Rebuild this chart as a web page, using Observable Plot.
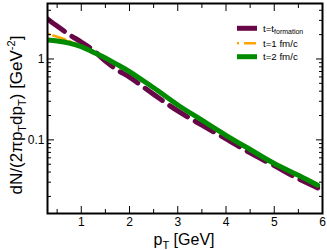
<!DOCTYPE html>
<html>
<head>
<meta charset="utf-8">
<script src="https://cdn.jsdelivr.net/npm/d3@7"></script>
<script src="https://cdn.jsdelivr.net/npm/@observablehq/plot@0.6"></script>
<style>
  html, body { margin: 0; padding: 0; background: white; }
</style>
</head>
<body>
<div id="chart"></div>
<script>
// ---- data ----
const pT        = [0.3, 0.5, 0.75, 1.0, 1.25, 1.5, 1.75, 2.0, 2.5, 3.0, 3.5, 4.0, 4.5, 5.0, 5.5, 5.9];
const formation = [3.13, 2.55, 2.0, 1.62, 1.28, 0.94, 0.73, 0.595, 0.365, 0.228, 0.152, 0.103, 0.069, 0.048, 0.033, 0.0255];
const t1fm      = [2.05, 1.88, 1.66, 1.43, 1.20, 1.01, 0.835, 0.69, 0.432, 0.265, 0.172, 0.112, 0.075, 0.0503, 0.036, 0.027];
const t2fm      = [1.72, 1.67, 1.57, 1.42, 1.21, 1.03, 0.85, 0.70, 0.44, 0.27, 0.175, 0.114, 0.076, 0.051, 0.0365, 0.0275];

const seriesNames  = ["t=t_formation", "t=1 fm/c", "t=2 fm/c"];
const xMajorTicks  = [1, 2, 3, 4, 5, 6];
const xMinorTicks  = [0.5, 1.5, 2.5, 3.5, 4.5, 5.5];
const yMajorTicks  = [0.1, 1];
const yTickLabels  = ["0.1", "1"];
const yMinorTicks  = [0.02, 0.03, 0.04, 0.05, 0.06, 0.07, 0.08, 0.09, 0.2, 0.3, 0.4, 0.5, 0.6, 0.7, 0.8, 0.9, 2, 3, 4];

const colors = ["rgb(103,7,72)", "rgb(255,165,0)", "rgb(0,139,0)"];

const rows = (vals) => pT.map((x, i) => ({x, y: vals[i]}));

const tickStyle = {stroke: "black", strokeWidth: 1, fill: "none", label: null};

const plot = Plot.plot({
  width: 327,
  height: 250,
  marginLeft: 47,
  marginRight: 5,
  marginTop: 3,
  marginBottom: 37,
  style: {fontFamily: "'Liberation Sans', Arial, sans-serif", fontSize: "12px", background: "white", color: "black"},
  x: {domain: [0.3, 6]},
  y: {type: "log", domain: [0.0123, 4.85]},
  marks: [
    Plot.line(rows(formation), {x: "x", y: "y", stroke: colors[0], strokeWidth: 5, strokeDasharray: "21,9", curve: "catmull-rom", clip: true}),
    Plot.line(rows(t1fm), {x: "x", y: "y", stroke: colors[1], strokeWidth: 2.5, strokeDasharray: "2,4,13,4", curve: "catmull-rom", clip: true}),
    Plot.line(rows(t2fm), {x: "x", y: "y", stroke: colors[2], strokeWidth: 5, curve: "catmull-rom", clip: true}),
    // inward ticks
    Plot.axisX({anchor: "bottom", ticks: xMajorTicks, tickSize: -7, ...tickStyle}),
    Plot.axisX({anchor: "top", ticks: xMajorTicks, tickSize: -7, ...tickStyle}),
    Plot.axisX({anchor: "bottom", ticks: xMinorTicks, tickSize: -4, ...tickStyle}),
    Plot.axisX({anchor: "top", ticks: xMinorTicks, tickSize: -4, ...tickStyle}),
    Plot.axisY({anchor: "left", ticks: yMajorTicks, tickSize: -7, ...tickStyle}),
    Plot.axisY({anchor: "right", ticks: yMajorTicks, tickSize: -7, ...tickStyle}),
    Plot.axisY({anchor: "left", ticks: yMinorTicks, tickSize: -4, ...tickStyle}),
    Plot.axisY({anchor: "right", ticks: yMinorTicks, tickSize: -4, ...tickStyle}),
    // tick labels
    Plot.axisX({anchor: "bottom", ticks: xMajorTicks, tickSize: 0, tickPadding: 4, fontSize: 12, label: null, tickFormat: d => String(d)}),
    Plot.axisY({anchor: "left", ticks: yMajorTicks, tickSize: 0, tickPadding: 3, fontSize: 12, label: null, tickFormat: d => yTickLabels[yMajorTicks.indexOf(d)]}),
    Plot.frame({stroke: "black", strokeWidth: 2})
  ]
});

document.getElementById("chart").appendChild(plot);

const svg = d3.select(plot);
const ff = "'Liberation Sans', Arial, sans-serif";

// axis titles with sub/superscripts
const xl = svg.append("text")
  .attr("x", 184).attr("y", 245)
  .attr("text-anchor", "middle")
  .attr("font-family", ff).attr("font-size", 16).attr("fill", "black");
xl.append("tspan").text("p");
xl.append("tspan").attr("dy", 4).attr("font-size", 11).text("T");
xl.append("tspan").attr("dy", -4).text(" [GeV]");

const yl = svg.append("text")
  .attr("transform", "translate(22,115) rotate(-90)")
  .attr("text-anchor", "middle")
  .attr("font-family", ff).attr("font-size", 17).attr("fill", "black");
yl.append("tspan").text("dN/(2πp");
yl.append("tspan").attr("dy", 4).attr("font-size", 11).text("T");
yl.append("tspan").attr("dy", -4).text("dp");
yl.append("tspan").attr("dy", 4).attr("font-size", 11).text("T");
yl.append("tspan").attr("dy", -4).text(") [GeV");
yl.append("tspan").attr("dy", -7).attr("font-size", 11).text("-2");
yl.append("tspan").attr("dy", 7).text("]");

// legend
const legY = [28.3, 43.3, 56.7];
const dashes = ["none", "2,5,12,10", "none"];
const widths = [5, 2.5, 5];
seriesNames.forEach((name, i) => {
  svg.append("line")
    .attr("x1", 237).attr("x2", 257).attr("y1", legY[i]).attr("y2", legY[i])
    .attr("stroke", colors[i]).attr("stroke-width", widths[i])
    .attr("stroke-dasharray", dashes[i]);
  const t = svg.append("text")
    .attr("x", 263).attr("y", legY[i] + 3.4)
    .attr("text-anchor", "start")
    .attr("font-family", ff).attr("font-size", 9.7).attr("fill", "black");
  const parts = name.split("_");
  t.append("tspan").text(parts[0]);
  if (parts[1]) t.append("tspan").attr("dy", 2.5).attr("font-size", 7).text(parts[1]);
});
</script>
</body>
</html>
